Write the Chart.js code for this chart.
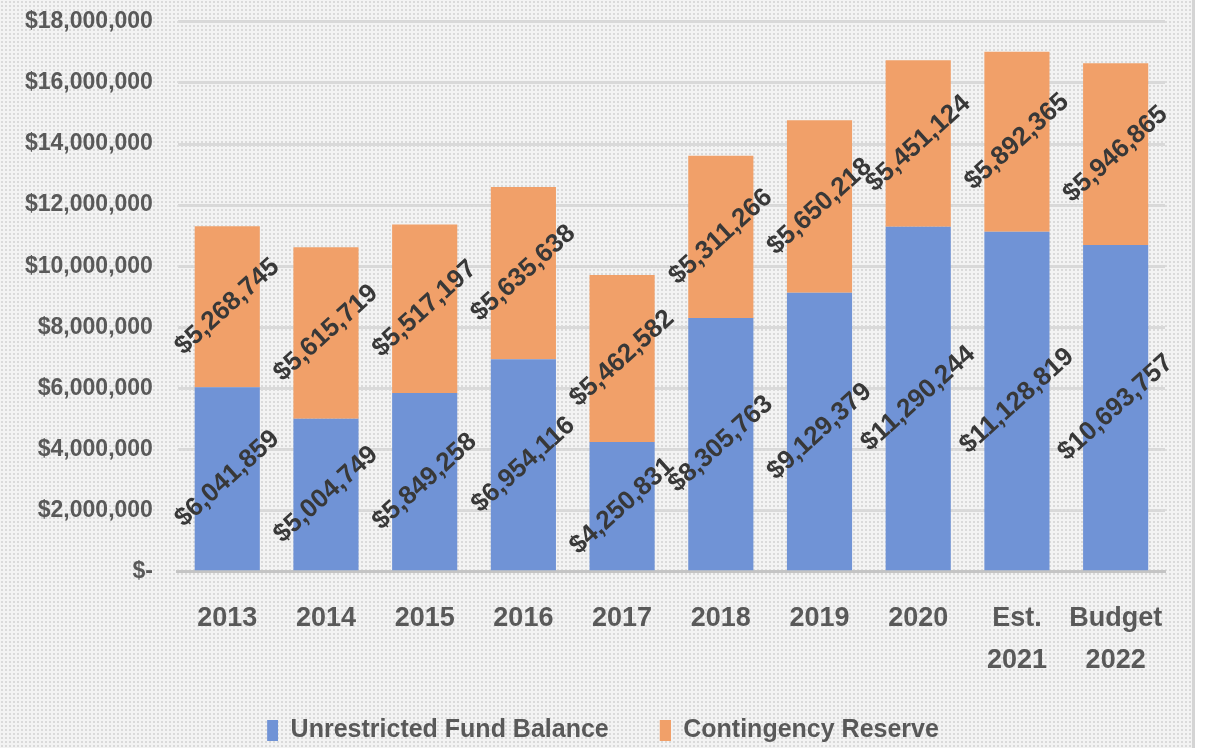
<!DOCTYPE html>
<html>
<head>
<meta charset="utf-8">
<script src="https://cdn.jsdelivr.net/npm/chart.js@4/dist/chart.umd.min.js"></script>
<style>
  body { margin: 0; background: #ffffff; }
  #wrap {
    position: relative;
    overflow: hidden;
    width: 1192px;
    height: 748px;
    border-right: 3px solid #d4d4d4;
    background-color: #f3f3f3;
    background-image: radial-gradient(#dadada 0.8px, transparent 0.9px);
    background-size: 4px 4px;
  }
  #box { position: absolute; left: 0; top: -17px; width: 1192px; height: 770px; }
</style>
</head>
<body>
<div id="wrap"><div id="box"><canvas id="fund"></canvas></div></div>
<script>
// categories and values
var labels_years = ["2013", "2014", "2015", "2016", "2017", "2018", "2019", "2020", ["Est.", "2021"], ["Budget", "2022"]];
var data_unrestricted = [6041859, 5004749, 5849258, 6954116, 4250831, 8305763, 9129379, 11290244, 11128819, 10693757];
var data_contingency = [5268745, 5615719, 5517197, 5635638, 5462582, 5311266, 5650218, 5451124, 5892365, 5946865];
var series_colors = ["#7093d6", "#f1a069"];

var font_face = "'Liberation Sans', Arial, sans-serif";

var money = function (v) {
	if (v === 0) return "$-";
	return "$" + v.toLocaleString("en-US");
};

// legend marker: narrow box with empty room on its left, spreads the two items apart
var marker = function (color) {
	var m = document.createElement("canvas");
	m.width = 52;
	m.height = 21;
	var mc = m.getContext("2d");
	mc.fillStyle = color;
	mc.fillRect(41, 0, 11, 21);
	return m;
};

// rotated value labels in the middle of each segment
var segmentLabels = {
	id: "segmentLabels",
	afterDatasetsDraw: function (chart) {
		var c = chart.ctx;
		c.save();
		c.font = "bold 26px " + font_face;
		c.fillStyle = "#383838";
		c.textAlign = "center";
		c.textBaseline = "middle";
		chart.data.datasets.forEach(function (ds, i) {
			chart.getDatasetMeta(i).data.forEach(function (bar, j) {
				var y = (bar.y + bar.base) / 2;
				c.save();
				c.translate(bar.x, y);
				c.rotate(-42 * Math.PI / 180);
				c.fillText(money(ds.data[j]), 0, 0);
				c.restore();
			});
		});
		c.restore();
	},
};

var fund = document.getElementById("fund").getContext("2d");
var myChart_fund = new Chart(fund, {
	type: "bar",
	data: {
		labels: labels_years,
		datasets: [
			{
				label: "Unrestricted Fund Balance",
				data: data_unrestricted,
				backgroundColor: series_colors[0],
				barPercentage: 0.66,
				categoryPercentage: 1,
			},
			{
				label: "Contingency Reserve",
				data: data_contingency,
				backgroundColor: series_colors[1],
				barPercentage: 0.66,
				categoryPercentage: 1,
			},
		],
	},
	options: {
		responsive: true,
		maintainAspectRatio: false,
		animation: false,
		layout: { padding: { left: 0, right: 27, top: 0, bottom: 0 } },
		plugins: {
			tooltip: { enabled: false },
			legend: {
				position: "bottom",
				labels: {
					usePointStyle: true,
					pointStyleWidth: 52,
					boxHeight: 21,
					padding: 10,
					color: "#595959",
					font: { family: font_face, size: 25, weight: "bold" },
					generateLabels: function (chart) {
						var items = Chart.defaults.plugins.legend.labels.generateLabels(chart);
						items.forEach(function (it, k) {
							it.pointStyle = marker(series_colors[k]);
						});
						return items;
					},
				},
			},
		},
		scales: {
			x: {
				stacked: true,
				grid: { display: false, drawTicks: false },
				border: { display: true, color: "#c4c4c4", width: 3 },
				ticks: {
					color: "#595959",
					padding: 26,
					maxRotation: 0,
					autoSkip: false,
					font: { family: font_face, size: 27, weight: "bold", lineHeight: 1.56 },
				},
			},
			y: {
				stacked: true,
				min: 0,
				max: 18000000,
				grid: { color: "#d9d9d9", lineWidth: 3, drawTicks: false },
				border: { display: false },
				ticks: {
					stepSize: 2000000,
					color: "#595959",
					padding: 25,
					font: { family: font_face, size: 23, weight: "bold" },
					callback: function (v) { return money(v); },
				},
			},
		},
	},
	plugins: [segmentLabels],
});
</script>
</body>
</html>
